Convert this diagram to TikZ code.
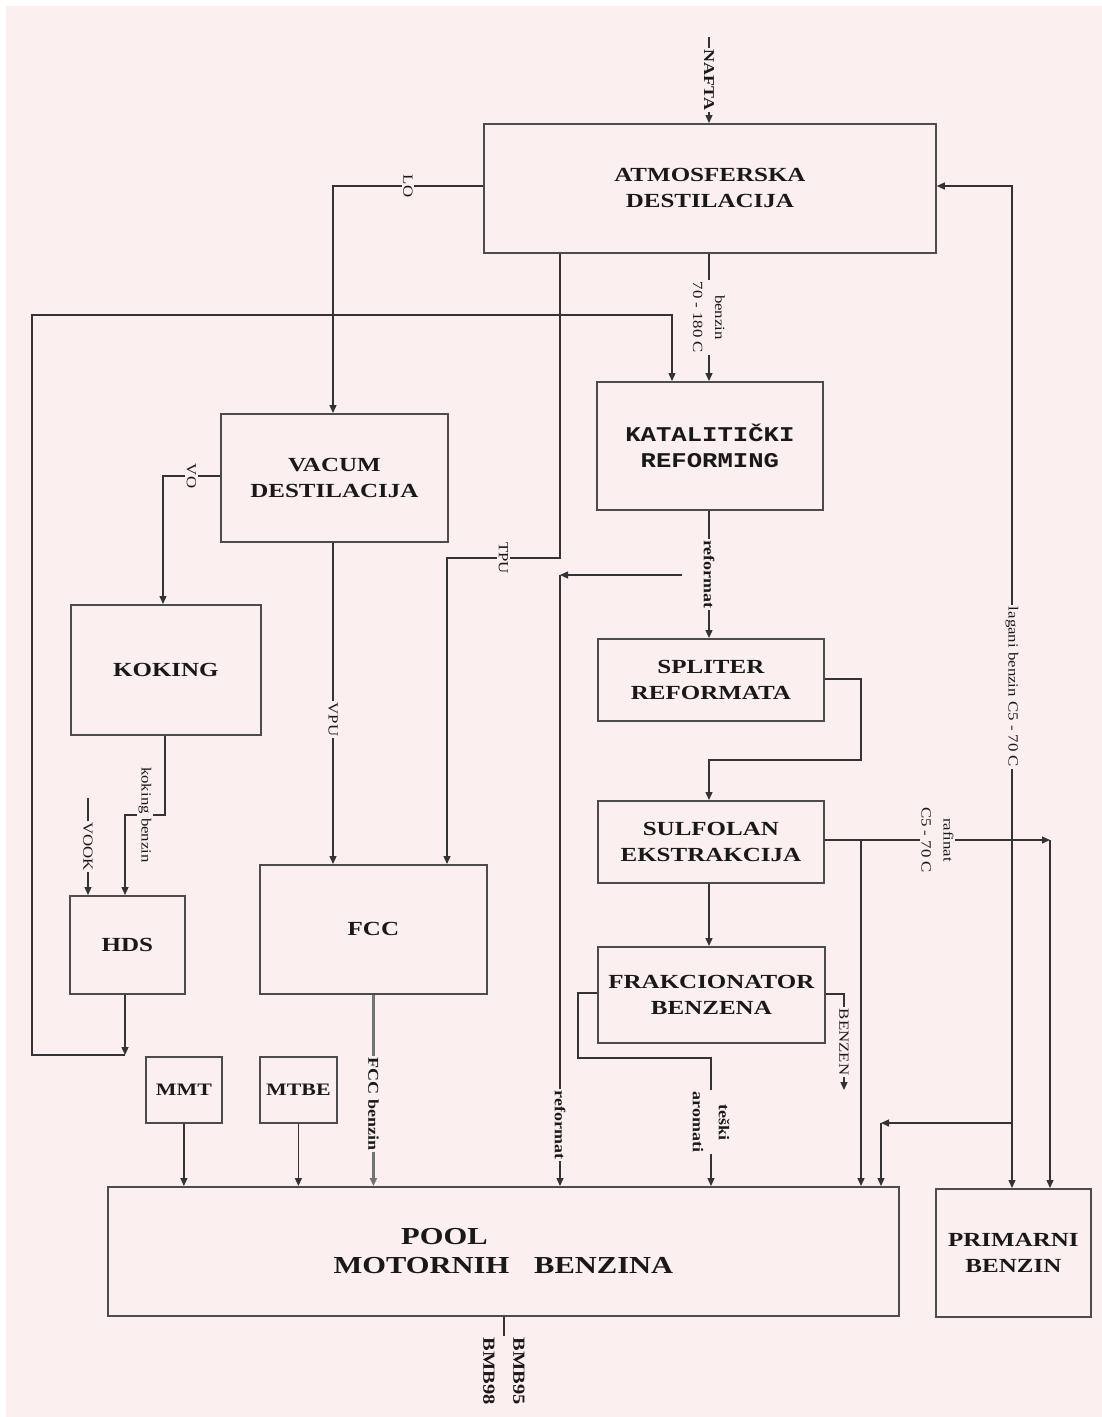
\documentclass[tikz,border=0pt]{standalone}
\usepackage{fontspec}
\setmainfont{Liberation Serif}
\newfontfamily\bxf[FakeStretch=1.25]{Liberation Serif}
\newfontfamily\lbf[FakeStretch=1.2]{Liberation Serif}
\newfontfamily\mnf[FakeStretch=1.22]{Liberation Mono}
\usetikzlibrary{arrows.meta}
\definecolor{bg}{RGB}{251,239,239}
\begin{document}
\begin{tikzpicture}[x=1pt,y=-1pt,
  box/.style={draw=black!70, line width=1.8pt, align=center, inner sep=0pt, text=black!90,
    anchor=north west, font=\bxf\bfseries\fontsize{20}{26}\selectfont},
  katf/.style={font=\mnf\bfseries\fontsize{21}{26}\selectfont},
  smallf/.style={font=\bxf\bfseries\fontsize{17.5}{22}\selectfont},
  poolf/.style={font=\bxf\bfseries\fontsize{24.4}{29}\selectfont},
  lbl/.style={font=\lbf\fontsize{14}{22}\selectfont, fill=bg, inner sep=1.5pt, align=center, rotate=-90, text=black!90},
  lblb/.style={font=\lbf\bfseries\fontsize{15}{26}\selectfont, fill=bg, inner sep=1.5pt, align=center, rotate=-90, text=black!90},
  bmbf/.style={font=\lbf\bfseries\fontsize{17}{30}\selectfont},
  conn/.style={draw=black!80, line width=1.3pt},
  arr/.style={conn, -{Triangle[length=8pt,width=7pt]}},
  arrtwo/.style={conn, {Triangle[length=8pt,width=7pt]}-{Triangle[length=8pt,width=7pt]}},
  fccline/.style={draw=black!55, line width=2.6pt}
]
\useasboundingbox (0,0) rectangle (1102,1417);
\fill[white] (0,0) rectangle (1102,1417);
\fill[bg] (6,6) rectangle (1102,1417);

% boxes
\node[box,minimum width=452pt,minimum height=129pt] (atm) at (483,123) {ATMOSFERSKA\\DESTILACIJA};
\node[box,minimum width=227pt,minimum height=128pt] (vac) at (220,413) {VACUM\\DESTILACIJA};
\node[box,katf,minimum width=226pt,minimum height=128pt] (kat) at (596,381) {KATALITIČKI\\REFORMING};
\node[box,minimum width=190pt,minimum height=130pt] (kok) at (70,604) {KOKING};
\node[box,minimum width=226pt,minimum height=82pt] (spl) at (597,638) {SPLITER\\REFORMATA};
\node[box,minimum width=226pt,minimum height=82pt] (sul) at (597,800) {SULFOLAN\\EKSTRAKCIJA};
\node[box,minimum width=115pt,minimum height=98pt] (hds) at (69,895) {HDS};
\node[box,minimum width=227pt,minimum height=129pt] (fcc) at (259,864) {FCC};
\node[box,minimum width=227pt,minimum height=96pt] (frk) at (597,946) {FRAKCIONATOR\\BENZENA};
\node[box,smallf,minimum width=76pt,minimum height=66pt] (mmt) at (145,1056) {MMT};
\node[box,smallf,minimum width=77pt,minimum height=66pt] (mtbe) at (259,1056) {MTBE};
\node[box,poolf,minimum width=791pt,minimum height=129pt] (pool) at (107,1186) {POOL\hspace*{118pt}\\MOTORNIH\hspace{25pt}BENZINA};
\node[box,minimum width=155pt,minimum height=128pt] (prim) at (935,1188) {PRIMARNI\\BENZIN};

% coordinates
\coordinate (nafta) at (709,37);
\coordinate (loC) at (333,186);
\coordinate (bx) at (709,316);
\coordinate (kx) at (672,315);
\coordinate (hb) at (125,1055);
\coordinate (ll) at (32,1055);
\coordinate (lt) at (32,315);
\coordinate (t1) at (560,558);
\coordinate (t2) at (447,558);
\coordinate (v1) at (163,476);
\coordinate (r1) at (682,575);
\coordinate (r2) at (560,575);
\coordinate (s1) at (861,679);
\coordinate (s2) at (861,760);
\coordinate (s3) at (709,760);
\coordinate (f1) at (1050,840);
\coordinate (f0) at (861,840);
\coordinate (g1) at (1012,186);
\coordinate (g2) at (1012,1123);
\coordinate (g3) at (881,1123);
\coordinate (a1) at (578,993);
\coordinate (a2) at (578,1058);
\coordinate (a3) at (711,1058);
\coordinate (b1) at (844,994);
\coordinate (b2) at (844,1090);
\coordinate (k1) at (165,815);
\coordinate (k2) at (125,815);
\coordinate (vk) at (88,798);

% connectors
\draw[arr] (nafta) -- node[lblb]{NAFTA} (nafta |- atm.north);
\draw[arr] (atm.west |- loC) -- node[lbl]{LO} (loC) -- (vac.north -| loC);
\draw[arr] (atm.south -| bx) -- node[lbl]{benzin\\70 - 180 C} (kat.north -| bx);
\draw[arr] (hds.south -| hb) -- (hb);
\draw[arr] (hb) -- (ll) -- (lt) -- (kx) -- (kat.north -| kx);
\draw[arr] (atm.south -| t1) -- (t1) -- node[lbl]{TPU} (t2) -- (fcc.north -| t2);
\draw[arr] (vac.west |- v1) -- node[lbl]{VO} (v1) -- (kok.north -| v1);
\draw[arr] (vac.south -| loC) -- node[lbl,pos=0.55]{VPU} (fcc.north -| loC);
\draw[arr] (kat.south -| bx) -- node[lblb]{reformat} (spl.north -| bx);
\draw[arr] (r1) -- (r2);
\draw[arr] (r2) -- node[lblb,pos=0.9]{reformat} (pool.north -| r2);
\draw[arr] (spl.east |- s1) -- (s1) -- (s2) -- (s3) -- (sul.north -| s3);
\draw[arr] (sul.south -| bx) -- (frk.north -| bx);
\draw[arr] (sul.east |- f1) -- node[lbl]{rafinat\\C5 - 70 C} (f1);
\draw[arr] (f1) -- (prim.north -| f1);
\draw[arr] (f0) -- (pool.north -| f0);
\draw[arrtwo] (atm.east |- g1) -- (g1) -- node[lbl]{lagani benzin C5 - 70 C} (prim.north -| g1);
\draw[arr] (g2) -- (g3);
\draw[arr] (g3) -- (pool.north -| g3);
\draw[arr] (frk.west |- a1) -- (a1) -- (a2) -- (a3) -- node[lblb]{teški\\aromati} (pool.north -| a3);
\draw[arr] (frk.east |- b1) -- (b1) -- node[lbl]{BENZEN} (b2);
\draw[arr] (kok.south -| k1) -- (k1) -- node[lbl]{koking benzin} (k2) -- (hds.north -| k2);
\draw[arr] (vk) -- node[lbl]{VOOK} (hds.north -| vk);
\draw[arr,fccline] (fcc.south) -- node[lblb,pos=0.57]{FCC benzin} (pool.north -| fcc.south);
\draw[arr] (mmt.south) -- (pool.north -| mmt.south);
\draw[arr] (mtbe.south) -- (pool.north -| mtbe.south);
\node[lblb,bmbf] (bmb) at (504,1371) {BMB95\\BMB98};
\draw[conn] (pool.south -| bmb.west) -- (bmb.west);
\end{tikzpicture}
\end{document}
